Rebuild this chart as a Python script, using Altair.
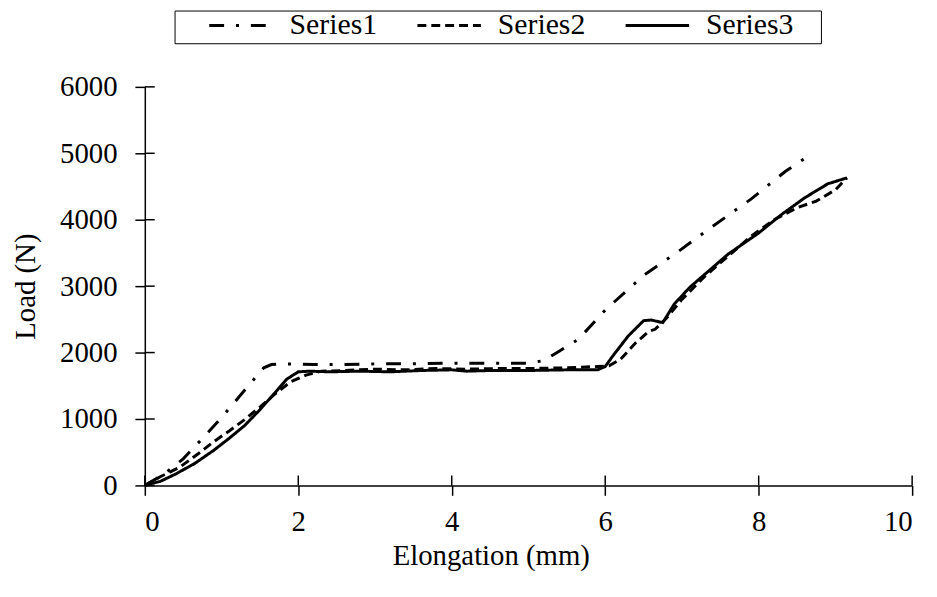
import altair as alt
import pandas as pd

# Series1 (dash-dot)
s1_x = [0, 0.25, 0.5, 0.77, 1.0, 1.16, 1.35, 1.55, 1.65, 1.8, 2.2, 2.6, 3.0, 3.5, 4.0, 4.5, 5.0, 5.2, 5.4, 5.65, 6.0, 6.5, 6.95, 7.4, 7.9, 8.35, 8.7]
s1_y = [0, 170, 400, 730, 1020, 1240, 1500, 1770, 1820, 1830, 1820, 1820, 1830, 1830, 1840, 1840, 1840, 1880, 2020, 2200, 2640, 3160, 3520, 3900, 4310, 4730, 5000]

# Series2 (dashed)
s2_x = [0, 0.2, 0.45, 0.7, 0.9, 1.1, 1.3, 1.5, 1.7, 1.9, 2.1, 2.3, 2.6, 3.0, 3.4, 3.8, 4.2, 4.6, 5.0, 5.5, 5.9, 6.05, 6.2, 6.4, 6.57, 6.65, 6.8, 7.0, 7.3, 7.6, 7.9, 8.2, 8.5, 8.75, 9.0, 9.15]
s2_y = [0, 130, 270, 480, 660, 820, 990, 1180, 1380, 1560, 1660, 1720, 1730, 1750, 1740, 1760, 1750, 1760, 1760, 1770, 1790, 1800, 1900, 2150, 2320, 2350, 2520, 2800, 3150, 3450, 3750, 4000, 4180, 4280, 4450, 4630]

# Series3 (solid)
s3_x = [0, 0.2, 0.4, 0.65, 0.9, 1.1, 1.3, 1.5, 1.7, 1.85, 2.0, 2.15, 2.4, 2.8, 3.2, 3.6, 4.0, 4.2, 4.5, 5.0, 5.5, 5.9, 6.0, 6.1, 6.3, 6.5, 6.6, 6.75, 6.9, 7.1, 7.3, 7.6, 7.8, 8.0, 8.3, 8.6, 8.9, 9.15]
s3_y = [0, 60, 170, 330, 530, 710, 900, 1140, 1400, 1600, 1710, 1720, 1710, 1720, 1710, 1730, 1740, 1720, 1730, 1730, 1740, 1740, 1790, 1950, 2250, 2480, 2490, 2450, 2730, 2980, 3180, 3480, 3640, 3800, 4080, 4330, 4540, 4630]

series_names = ["Series1", "Series2", "Series3"]
x_ticks = [0, 2, 4, 6, 8, 10]
y_ticks = [0, 1000, 2000, 3000, 4000, 5000, 6000]

rows = []
for name, xs, ys in zip(series_names, [s1_x, s2_x, s3_x], [s1_y, s2_y, s3_y]):
    for i, (a, b) in enumerate(zip(xs, ys)):
        rows.append({"series": name, "x": a, "y": b, "order": i})
df = pd.DataFrame(rows)

W, H = 774, 402
FONT = "Times New Roman, Liberation Serif, Tinos, serif"
FS = 29

xscale = alt.Scale(domain=[0, 10], nice=False)
yscale = alt.Scale(domain=[0, 6000], nice=False)

xaxis = alt.Axis(values=x_ticks, format="d", title="Elongation (mm)", tickSize=10, labelPadding=12,
                 titleX=349, titleY=71, titleBaseline="middle", titleAnchor="start", titleAlign="center")
yaxis = alt.Axis(values=y_ticks, format="d", title="Load (N)", tickSize=10, labelPadding=18,
                 titleX=-120, titleY=201, titleAngle=270, titleBaseline="middle", titleAlign="center")

lines = alt.Chart(df).mark_line(strokeWidth=3, color="black").encode(
    x=alt.X("x:Q", scale=xscale, axis=xaxis),
    y=alt.Y("y:Q", scale=yscale, axis=yaxis),
    strokeDash=alt.StrokeDash("series:N", scale=alt.Scale(
        domain=series_names, range=[[15, 12, 3, 12], [9, 5], [1, 0]]),
        legend=alt.Legend(
            title=" ", titleOrient="right", titleFontSize=8, titlePadding=25, titleFont=FONT,
            orient="none", legendX=30, legendY=-77, direction="horizontal", columns=3,
            symbolType="stroke", symbolSize=4100, symbolStrokeWidth=3, symbolStrokeColor="black",
            clipHeight=24, labelOffset=15, symbolOffset=30, columnPadding=8,
            strokeColor="black", padding=3, labelFontSize=30, labelFont=FONT, labelColor="black")),
    order="order:Q",
)

xt = pd.DataFrame({"x": x_ticks})
yt = pd.DataFrame({"y": y_ticks})
xin = alt.Chart(xt).mark_rule(color="black", strokeWidth=1.5).encode(
    x=alt.X("x:Q", scale=xscale, axis=xaxis), y=alt.value(H - 10), y2=alt.value(H))
yin = alt.Chart(yt).mark_rule(color="black", strokeWidth=1.5).encode(
    y=alt.Y("y:Q", scale=yscale, axis=yaxis), x=alt.value(0), x2=alt.value(10))

chart = alt.layer(lines, xin, yin).properties(
    width=W, height=H,
    autosize=alt.AutoSizeParams(type="none"),
    padding={"left": 138, "top": 77, "right": 17, "bottom": 110},
).configure(font=FONT).configure_view(stroke=None).configure_axis(
    domainColor="black", domainWidth=1.5, tickColor="black", tickWidth=1.5,
    grid=False, labelFont=FONT, labelFontSize=FS, labelColor="black",
    titleFont=FONT, titleFontSize=FS, titleColor="black", titleFontWeight="normal",
).configure_legend(labelFont=FONT, titleFont=FONT)

chart.save("out.html", embed_options={"renderer": "svg", "actions": False})
